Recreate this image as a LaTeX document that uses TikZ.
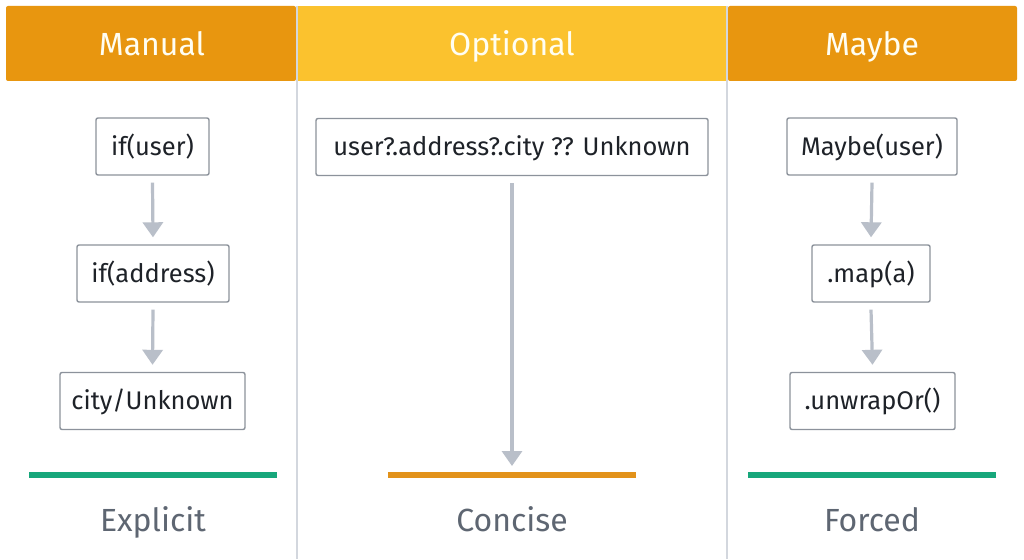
\documentclass[tikz,border=0pt]{standalone}
\usepackage{fontspec}
\setmainfont{Fira Sans}
\usetikzlibrary{arrows.meta}
\definecolor{hdrorange}{HTML}{E8960F}
\definecolor{hdryellow}{HTML}{FBC22E}
\definecolor{divgray}{HTML}{D3D7DE}
\definecolor{boxgray}{HTML}{8C929B}
\definecolor{arrgray}{HTML}{B9BFC9}
\definecolor{txtdark}{HTML}{1E2228}
\definecolor{lblgray}{HTML}{5E6672}
\definecolor{barGreen}{HTML}{17A77B}
\definecolor{barOrange}{HTML}{E2921A}
\begin{document}
\begin{tikzpicture}[x=1pt,y=-1pt,
  hdr/.style={inner sep=0pt, anchor=base, text=white!95!yellow, font=\fontsize{32}{38}\selectfont},
  codebox/.style={draw=boxgray, line width=1.4pt, rounded corners=2pt, fill=white,
    text=txtdark, font=\fontsize{25.5}{30}\selectfont, inner sep=0pt,
    text height=17pt, text depth=0pt, minimum height=57pt, anchor=center},
  flow/.style={draw=arrgray, line width=3.2pt, -{Triangle[length=15pt,width=20pt]}},
  lbl/.style={text=lblgray, anchor=base, inner sep=0pt, font=\fontsize{32}{38}\selectfont},
  resbar/.style={line width=6pt}
]
\useasboundingbox (0,0) rectangle (1024,559);
\fill[white] (0,0) rectangle (1024,559);
% headers
\fill[hdrorange, rounded corners=2pt] (6,6) rectangle (296,81);
\fill[hdryellow] (298,6) rectangle (726,81);
\fill[hdrorange, rounded corners=2pt] (728,6) rectangle (1017,81);
\node[hdr] (h1) at (152,56) {Manual};
\node[hdr] (h2) at (512,56) {Optional};
\node[hdr] (h3) at (872,56) {Maybe};
% dividers
\coordinate (d1t) at (297,6); \coordinate (d1b) at (297,559);
\coordinate (d2t) at (727,6); \coordinate (d2b) at (727,559);
\draw[divgray, line width=2pt] (d1t) -- (d1b);
\draw[divgray, line width=2pt] (d2t) -- (d2b);
% Manual column
\node[codebox, minimum width=113pt] (m1) at (152.5,146.5) {if(user)};
\node[codebox, minimum width=152pt] (m2) at (153,273.5) {if(address)};
\node[codebox, minimum width=185pt] (m3) at (152.5,401) {city/Unknown};
\draw[flow] ([yshift=-7pt]m1.south) -- ([yshift=7pt]m2.north);
\draw[flow] ([yshift=-7pt]m2.south) -- ([yshift=7pt]m3.north);
% Optional column
\node[codebox, minimum width=392pt] (o1) at (512,147) {user?.address?.city ?? Unknown};
\coordinate (oend) at (512,466);
\draw[flow] ([yshift=-7pt]o1.south) -- (oend);
% Maybe column
\node[codebox, minimum width=170pt] (y1) at (872,146.5) {Maybe(user)};
\node[codebox, minimum width=118pt] (y2) at (871,273.5) {.map(a)};
\node[codebox, minimum width=165pt] (y3) at (872.5,401) {.unwrapOr()};
\draw[flow] ([yshift=-7pt]y1.south) -- ([yshift=7pt]y2.north);
\draw[flow] ([yshift=-7pt]y2.south) -- ([yshift=7pt]y3.north);
% result bars
\coordinate (b1l) at (29,475); \coordinate (b1r) at (277,475);
\coordinate (b2l) at (388,475); \coordinate (b2r) at (636,475);
\coordinate (b3l) at (748,475); \coordinate (b3r) at (996,475);
\draw[resbar, barGreen] (b1l) -- (b1r);
\draw[resbar, barOrange] (b2l) -- (b2r);
\draw[resbar, barGreen] (b3l) -- (b3r);
% labels
\node[lbl] (l1) at (153,531) {Explicit};
\node[lbl] (l2) at (512,531) {Concise};
\node[lbl] (l3) at (872,531) {Forced};
\end{tikzpicture}
\end{document}
